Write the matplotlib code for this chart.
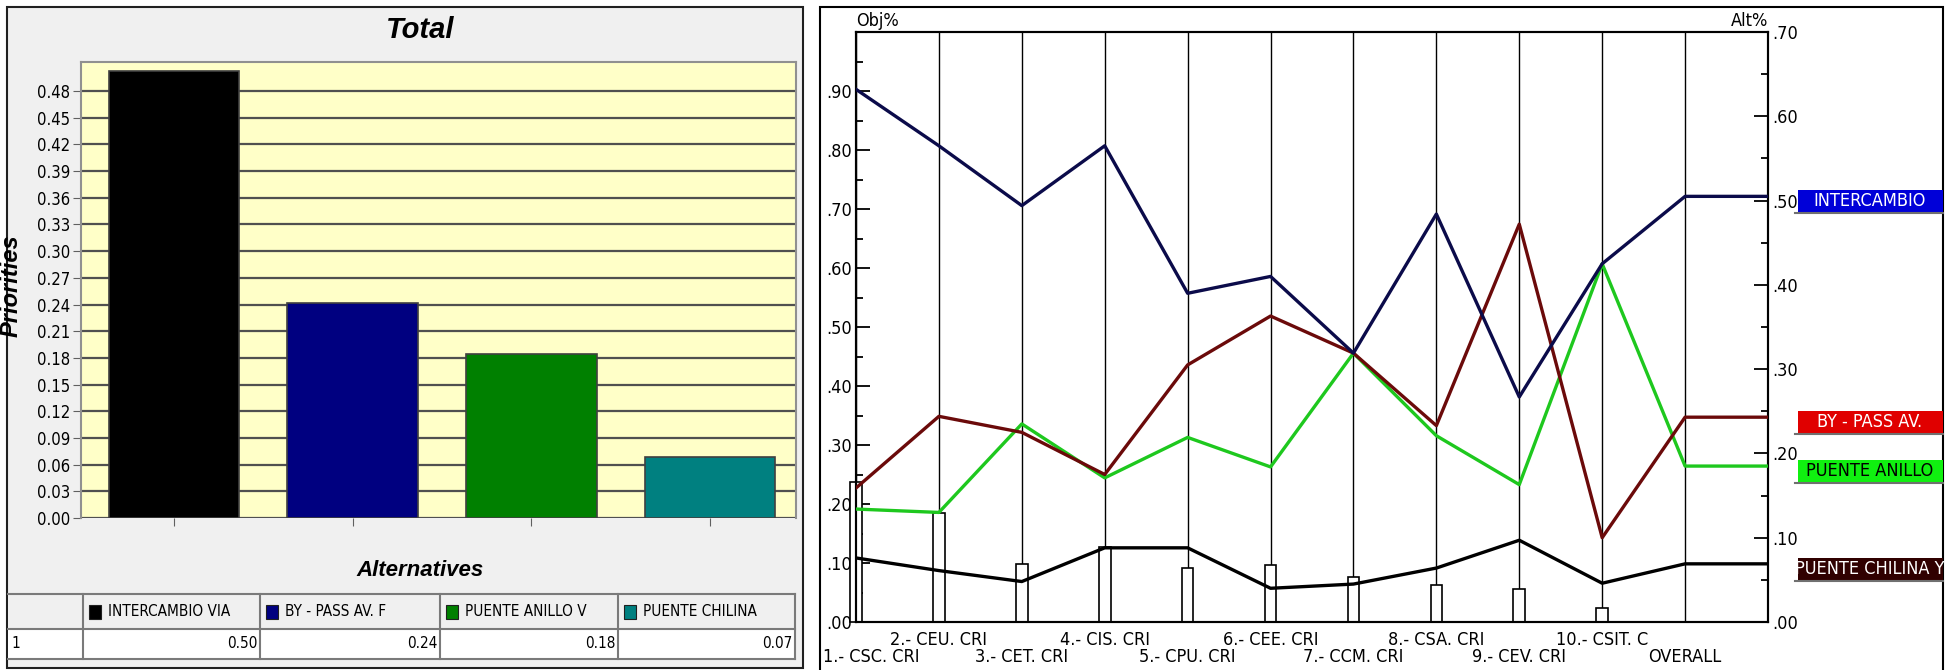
import matplotlib
matplotlib.use("Agg")
import matplotlib.pyplot as plt
from matplotlib import font_manager
from matplotlib.patches import Rectangle
from matplotlib.ticker import FuncFormatter, MultipleLocator
import matplotlib.transforms as mtransforms
import numpy as np

######
# datos
######
alternativas = ["INTERCAMBIO VIA", "BY - PASS AV. F", "PUENTE ANILLO V", "PUENTE CHILINA"]
prioridades = [0.503, 0.242, 0.184, 0.069]
colores_barras = ["#000000", "#000080", "#008000", "#008080"]

criterios = ["1.- CSC. CRI", "2.- CEU. CRI", "3.- CET. CRI", "4.- CIS. CRI", "5.- CPU. CRI",
             "6.- CEE. CRI", "7.- CCM. CRI", "8.- CSA. CRI", "9.- CEV. CRI", "10.- CSIT. C", "OVERALL"]
# peso de cada criterio (Obj%), sin barra en OVERALL
peso_obj = [0.237, 0.184, 0.099, 0.127, 0.091, 0.097, 0.077, 0.062, 0.056, 0.024]
# prioridad de cada alternativa por criterio (Alt%)
intercambio = [0.632, 0.565, 0.494, 0.565, 0.390, 0.410, 0.319, 0.484, 0.267, 0.425, 0.505]
bypass = [0.159, 0.244, 0.225, 0.175, 0.305, 0.363, 0.319, 0.233, 0.472, 0.100, 0.243]
anillo = [0.134, 0.130, 0.235, 0.171, 0.219, 0.184, 0.319, 0.221, 0.163, 0.425, 0.185]
chilina = [0.076, 0.061, 0.048, 0.088, 0.088, 0.040, 0.045, 0.064, 0.097, 0.046, 0.069]
etiquetas_alt = ["INTERCAMBIO", "BY - PASS AV.", "PUENTE ANILLO", "PUENTE CHILINA Y"]

######
# fuentes
######
fuentes = font_manager.fontManager.ttflist
if any(f.name == 'Liberation Sans Narrow' for f in fuentes):
    estrecha = dict(family='Liberation Sans Narrow')
elif any(f.name == 'DejaVu Sans' and f.stretch == 'condensed' for f in fuentes):
    estrecha = dict(family='DejaVu Sans', stretch='condensed')
else:
    estrecha = dict(family='DejaVu Sans')
arial = dict(family='Liberation Sans')

W, H = 1946, 670
fig = plt.figure(figsize=(W/100, H/100), dpi=100, facecolor='white')


def caja(x0, y0, x1, y1):  # pixeles -> fraccion de figura
    return [x0/W, 1-y1/H, (x1-x0)/W, (y1-y0)/H]


# capa de fondo en pixeles
fondo = fig.add_axes([0, 0, 1, 1])
fondo.set_xlim(0, W)
fondo.set_ylim(H, 0)
fondo.axis('off')
fondo.add_patch(Rectangle((7, 7), 796, 661, facecolor='#f0f0f0', edgecolor='#202020', lw=1.5))
fondo.add_patch(Rectangle((820, 7), 1123, 668, facecolor='white', edgecolor='black', lw=1.5))

######
# grafico de barras
######
fondo.text(420, 30, "Total", ha='center', va='center', fontsize=21, fontweight='bold',
           fontstyle='italic', **arial)

axb = fig.add_axes(caja(81, 62, 796, 518))
axb.set_facecolor('#ffffc8')
pos = np.arange(len(alternativas))
axb.bar(pos, prioridades, width=0.73, color=colores_barras, edgecolor='#404040', lw=1.2, zorder=3)
axb.set_xlim(-0.52, 3.48)
axb.set_ylim(0, 0.5126)
axb.set_yticks(np.round(np.arange(0, 0.481, 0.03), 2))
axb.yaxis.set_major_formatter(FuncFormatter(lambda v, p: f"{v:.2f}"))
axb.grid(axis='y', color='#505050', lw=1.6, zorder=1)
axb.set_axisbelow(True)
axb.set_xticks(pos)
axb.set_xticklabels([])
axb.tick_params(axis='x', length=6, color='#606060', direction='out', pad=2)
axb.tick_params(axis='y', length=6, color='#606060', labelsize=12, pad=2)
for lab in axb.get_yticklabels():
    lab.set(**estrecha)
for s in axb.spines.values():
    s.set_color('#909090')
    s.set_linewidth(1.5)
axb.spines['bottom'].set_visible(False)
axb.set_ylabel("Priorities", fontsize=17, fontweight='bold', fontstyle='italic', labelpad=4, **arial)
axb.yaxis.set_label_coords(-0.082, 0.51)
fondo.text(420, 571, "Alternatives", ha='center', va='center', fontsize=16, fontweight='bold',
           fontstyle='italic', **arial)

# tabla de valores
cols = [8, 83, 260, 440, 618, 795]
fondo.add_patch(Rectangle((8, 594), 787, 35, facecolor='#f0f0f0', edgecolor='none'))
fondo.add_patch(Rectangle((8, 629), 787, 30, facecolor='white', edgecolor='none'))
for yy in [594, 629, 659]:
    fondo.plot([8, 795], [yy, yy], color='#7a7a7a', lw=1.5)
for xx in cols[1:]:
    fondo.plot([xx, xx], [594, 659], color='#7a7a7a', lw=1.5)
fondo.text(11, 644, "1", ha='left', va='center', fontsize=11, **estrecha)
for i, nombre in enumerate(alternativas):
    x0 = cols[i+1]
    fondo.add_patch(Rectangle((x0+6, 605), 12, 14, facecolor=colores_barras[i], edgecolor='#202020', lw=0.8))
    fondo.text(x0+25, 612, nombre, ha='left', va='center', fontsize=11, **estrecha)
    fondo.text(cols[i+2]-3, 644, f"{prioridades[i]:.2f}", ha='right', va='center', fontsize=11, **estrecha)

######
# grafico de sensibilidad
######
axl = fig.add_axes(caja(856, 32, 1768, 622))
axr = axl.twinx()
xc = np.arange(len(criterios))
axl.vlines(xc, 0, 1, color='black', lw=1, zorder=1)
axl.bar(np.arange(len(peso_obj)), peso_obj, width=0.14, facecolor='white', edgecolor='black',
        lw=1.2, zorder=2, clip_on=False)
axl.set_xlim(0, len(criterios))
axl.set_ylim(0, 1)
axl.yaxis.set_minor_locator(MultipleLocator(0.05))
axl.set_yticks(np.round(np.arange(0, 0.91, 0.1), 2))
axl.yaxis.set_major_formatter(FuncFormatter(lambda v, p: f"{v:.2f}".lstrip('0')))
axl.tick_params(axis='y', which='major', direction='in', length=10, width=1.3, labelsize=13, pad=3)
axl.tick_params(axis='y', which='minor', direction='in', length=5, width=1.3)
axl.set_xticks([])

xe = np.append(xc, len(criterios))
series = [chilina, anillo, bypass, intercambio]
colores_lineas = ['#000000', '#1ec81e', '#6b0a0a', '#0b0b4a']
for serie, color in zip(series, colores_lineas):
    axr.plot(xe, np.append(serie, serie[-1]), color=color, lw=2.4, zorder=3)
axr.set_ylim(0, 0.7)
axr.set_yticks(np.round(np.arange(0, 0.71, 0.1), 2))
axr.yaxis.set_minor_locator(MultipleLocator(0.05))
axr.yaxis.set_major_formatter(FuncFormatter(lambda v, p: f"{v:.2f}".lstrip('0')))
axr.tick_params(axis='y', which='major', direction='in', length=10, width=1.3, labelsize=13, pad=3)
axr.tick_params(axis='y', which='minor', direction='in', length=5, width=1.3)
for a in (axl, axr):
    for s in a.spines.values():
        s.set_linewidth(1.5)
    for lab in a.get_yticklabels():
        lab.set(**estrecha)

axl.text(0, 1.003, "Obj%", transform=axl.transAxes, ha='left', va='bottom', fontsize=13, **estrecha)
axl.text(1, 1.003, "Alt%", transform=axl.transAxes, ha='right', va='bottom', fontsize=13, **estrecha)

trans = mtransforms.blended_transform_factory(axl.transData, axl.transAxes)
for i, nombre in enumerate(criterios):
    fila = -0.0305 if i % 2 == 1 else -0.059
    if i == 0:
        axl.text(-0.4, fila, nombre, transform=trans, ha='left', va='center', fontsize=13,
                 clip_on=False, **estrecha)
    else:
        axl.text(i, fila, nombre, transform=trans, ha='center', va='center', fontsize=13,
                 clip_on=False, **estrecha)

# etiquetas de las alternativas a la derecha
colores_caja = ['#0000d8', '#e00000', '#10f010', '#300000']
colores_texto = ['white', 'white', 'black', 'white']
finales = [intercambio[-1], bypass[-1], anillo[-1], chilina[-1]]
for nombre, v, cf, ct in zip(etiquetas_alt, finales, colores_caja, colores_texto):
    yc = 622 - v/0.7*590 + 5
    fondo.add_patch(Rectangle((1798, yc-11), 145, 22, facecolor=cf, edgecolor='none'))
    fondo.plot([1795, 1943], [yc+12, yc+12], color='#707070', lw=1.5)
    fondo.text(1870, yc, nombre, ha='center', va='center', color=ct, fontsize=13, **estrecha)

plt.savefig("out.png", dpi=100)
plt.close()
